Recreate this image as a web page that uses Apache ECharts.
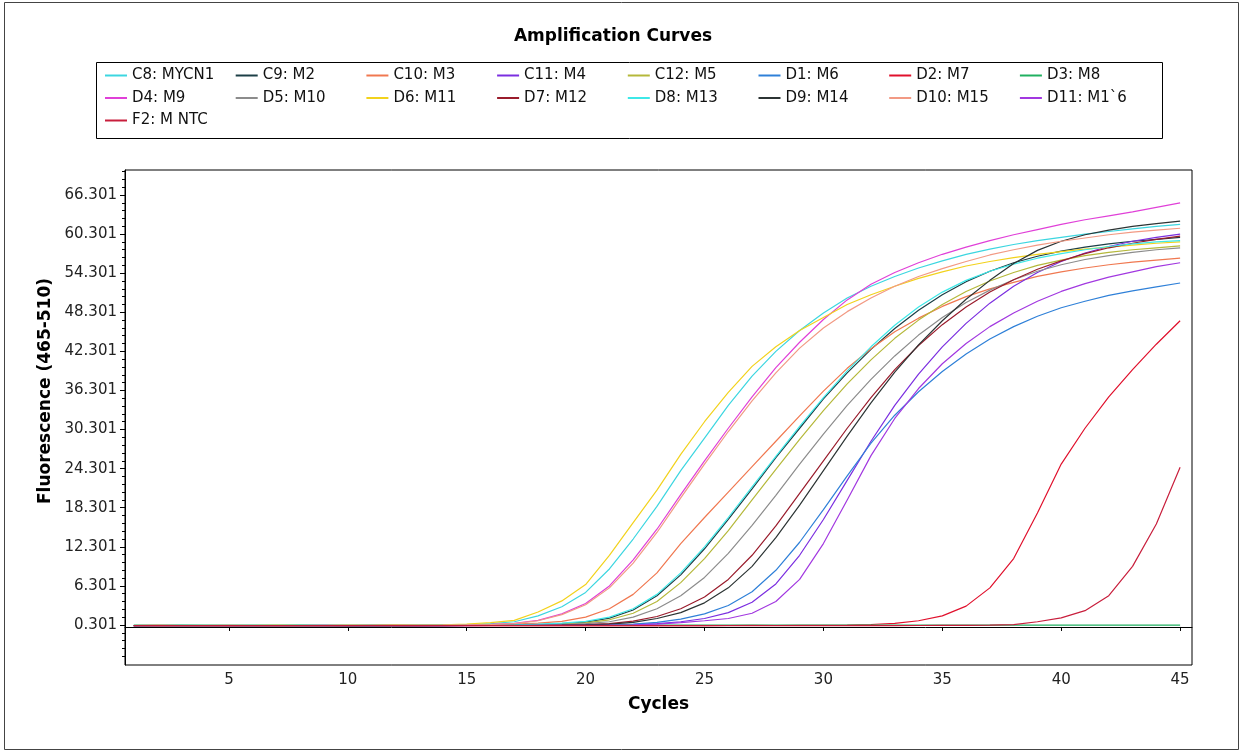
<!DOCTYPE html>
<html>
<head>
<meta charset="utf-8">
<script src="https://cdn.jsdelivr.net/npm/echarts@6/dist/echarts.min.js"></script>
<style>
  html, body { margin: 0; padding: 0; background: #fff; }
  #chart { width: 1243px; height: 753px; }
</style>
</head>
<body>
<div id="chart"></div>
<script>
//------------------------------------------ data ------------------------------------------
var cycles = [1,2,3,4,5,6,7,8,9,10,11,12,13,14,15,16,17,18,19,20,21,22,23,24,25,26,27,28,29,30,31,32,33,34,35,36,37,38,39,40,41,42,43,44,45];

var xTickLabels = [5, 10, 15, 20, 25, 30, 35, 40, 45];
var yTickLabels = ['0.301','6.301','12.301','18.301','24.301','30.301','36.301','42.301','48.301','54.301','60.301','66.301'];

var seriesNames = ['C8: MYCN1','C9: M2','C10: M3','C11: M4','C12: M5','D1: M6','D2: M7','D3: M8',
                   'D4: M9','D5: M10','D6: M11','D7: M12','D8: M13','D9: M14','D10: M15','D11: M1`6','F2: M NTC'];

var c8 = [0.22,0.20,0.23,0.21,0.20,0.22,0.21,0.23,0.22,0.21,0.24,0.26,0.28,0.31,0.38,0.52,0.8,1.7,3.1,5.3,8.9,13.5,18.5,24.0,29.0,34.0,38.5,42.3,45.5,48.2,50.5,52.3,53.8,55.1,56.2,57.2,58.0,58.7,59.3,59.8,60.3,60.7,61.1,61.5,61.8];
var c9 = [0.21,0.20,0.22,0.21,0.21,0.20,0.22,0.21,0.20,0.21,0.22,0.21,0.22,0.23,0.25,0.27,0.31,0.38,0.52,0.75,1.35,2.6,4.8,8.0,12.0,16.5,21.2,26.0,30.5,35.0,39.0,42.6,45.8,48.6,51.0,53.0,54.6,55.9,56.9,57.7,58.3,58.8,59.2,59.5,59.8];
var c10 = [0.21,0.22,0.20,0.21,0.22,0.20,0.21,0.22,0.21,0.20,0.22,0.23,0.24,0.26,0.28,0.32,0.42,0.58,0.85,1.5,2.8,5.0,8.3,12.8,16.8,20.7,24.6,28.5,32.4,36.2,39.7,42.7,45.3,47.4,49.2,50.7,51.9,52.9,53.8,54.5,55.1,55.6,56.0,56.3,56.6];
var c11 = [0.21,0.22,0.20,0.21,0.22,0.21,0.20,0.21,0.22,0.21,0.20,0.22,0.21,0.21,0.22,0.22,0.23,0.24,0.25,0.27,0.30,0.35,0.5,0.8,1.3,2.2,3.8,6.6,11.0,16.5,22.5,28.5,34.0,38.8,43.0,46.6,49.7,52.3,54.4,56.1,57.4,58.4,59.2,59.8,60.3];
var c12 = [0.22,0.21,0.20,0.22,0.21,0.22,0.20,0.21,0.22,0.20,0.21,0.22,0.22,0.23,0.24,0.26,0.29,0.35,0.45,0.62,1.1,2.1,3.9,6.8,10.5,14.8,19.5,24.2,28.8,33.2,37.3,41.0,44.3,47.1,49.5,51.5,53.1,54.4,55.5,56.3,57.0,57.5,57.9,58.2,58.5];
var d1 = [0.20,0.21,0.22,0.21,0.20,0.21,0.22,0.21,0.20,0.21,0.22,0.21,0.20,0.21,0.22,0.22,0.23,0.24,0.26,0.29,0.33,0.42,0.7,1.2,2.0,3.3,5.4,8.7,13.0,18.0,23.2,28.2,32.5,36.1,39.2,41.9,44.2,46.1,47.7,49.0,50.0,50.9,51.6,52.2,52.8];
var d2 = [0.22,0.21,0.20,0.21,0.22,0.21,0.20,0.22,0.21,0.20,0.21,0.22,0.21,0.20,0.21,0.22,0.21,0.20,0.21,0.22,0.21,0.20,0.21,0.22,0.21,0.22,0.23,0.22,0.24,0.25,0.28,0.38,0.55,0.95,1.7,3.2,6.0,10.5,17.5,25.0,30.5,35.3,39.5,43.4,47.0];
var d3 = [0.28,0.27,0.28,0.29,0.28,0.28,0.27,0.28,0.29,0.28,0.28,0.27,0.28,0.29,0.28,0.28,0.27,0.28,0.29,0.28,0.28,0.27,0.28,0.29,0.28,0.28,0.27,0.28,0.29,0.28,0.28,0.27,0.28,0.29,0.28,0.28,0.27,0.28,0.29,0.28,0.28,0.27,0.28,0.29,0.28];
var d4 = [0.21,0.23,0.20,0.22,0.21,0.20,0.22,0.21,0.23,0.22,0.23,0.24,0.26,0.28,0.32,0.40,0.55,1.0,2.0,3.6,6.3,10.3,15.0,20.3,25.5,30.5,35.3,39.8,43.7,47.2,50.2,52.6,54.4,55.9,57.2,58.3,59.3,60.2,61.0,61.8,62.5,63.1,63.7,64.4,65.1];
var d5 = [0.21,0.22,0.21,0.20,0.21,0.22,0.21,0.20,0.22,0.21,0.20,0.21,0.22,0.22,0.23,0.25,0.27,0.30,0.38,0.5,0.8,1.5,2.8,4.8,7.6,11.3,15.6,20.2,25.0,29.6,34.0,38.0,41.6,44.8,47.5,49.8,51.7,53.3,54.6,55.6,56.4,57.0,57.5,57.9,58.2];
var d6 = [0.20,0.24,0.21,0.22,0.20,0.21,0.23,0.20,0.22,0.24,0.25,0.27,0.30,0.34,0.45,0.65,1.0,2.3,4.0,6.5,11.0,16.0,21.0,26.5,31.5,36.0,40.0,43.0,45.5,47.5,49.5,51.0,52.3,53.5,54.5,55.4,56.1,56.7,57.2,57.6,58.0,58.3,58.6,58.9,59.1];
var d7 = [0.20,0.21,0.22,0.21,0.20,0.21,0.22,0.20,0.21,0.22,0.21,0.20,0.21,0.22,0.22,0.23,0.24,0.26,0.30,0.38,0.5,0.9,1.6,2.8,4.6,7.3,11.0,15.5,20.5,25.5,30.5,35.2,39.5,43.2,46.4,49.1,51.4,53.3,54.9,56.2,57.3,58.2,58.9,59.5,60.0];
var d8 = [0.20,0.22,0.21,0.20,0.22,0.21,0.20,0.22,0.21,0.22,0.20,0.21,0.23,0.24,0.26,0.29,0.33,0.42,0.58,0.85,1.5,2.8,5.0,8.3,12.3,16.8,21.5,26.2,30.8,35.2,39.3,43.0,46.3,49.1,51.4,53.2,54.6,55.7,56.6,57.3,57.9,58.4,58.8,59.1,59.3];
var d9 = [0.21,0.20,0.21,0.22,0.21,0.20,0.21,0.22,0.21,0.20,0.21,0.22,0.21,0.21,0.22,0.23,0.24,0.25,0.28,0.33,0.42,0.7,1.3,2.2,3.7,6.0,9.3,13.7,18.7,24.0,29.3,34.4,39.1,43.3,47.0,50.3,53.2,55.8,57.8,59.2,60.2,60.9,61.5,61.9,62.3];
var d10 = [0.22,0.21,0.22,0.20,0.23,0.21,0.22,0.20,0.21,0.23,0.22,0.24,0.25,0.27,0.31,0.38,0.52,0.95,1.9,3.4,6.0,9.8,14.5,19.8,25.0,30.0,34.7,39.0,42.8,45.9,48.4,50.5,52.3,53.8,55.0,56.1,57.1,57.9,58.6,59.2,59.7,60.2,60.6,60.9,61.2];
var d11 = [0.20,0.21,0.22,0.21,0.21,0.20,0.21,0.22,0.20,0.21,0.22,0.21,0.20,0.21,0.21,0.22,0.22,0.23,0.24,0.26,0.28,0.32,0.42,0.65,0.95,1.3,2.1,3.9,7.3,12.8,19.5,26.3,32.0,36.6,40.4,43.5,46.1,48.2,50.0,51.5,52.7,53.7,54.5,55.3,55.9];
var f2 = [0.21,0.22,0.21,0.20,0.21,0.22,0.21,0.20,0.21,0.22,0.21,0.20,0.21,0.22,0.21,0.20,0.21,0.22,0.21,0.20,0.21,0.22,0.21,0.20,0.21,0.22,0.21,0.20,0.21,0.22,0.21,0.20,0.21,0.22,0.23,0.24,0.27,0.35,0.8,1.4,2.5,4.8,9.3,15.8,24.5];

var seriesValues = [c8, c9, c10, c11, c12, d1, d2, d3, d4, d5, d6, d7, d8, d9, d10, d11, f2];

//------------------------------------------ styles ----------------------------------------
var seriesColors = ['#3cd6e0','#1c3f46','#f07850','#7b2ee0','#b5b83a','#2f80d8','#e0102c','#20b060',
                    '#e040d8','#8c8c8c','#f2d21c','#9a1c2c','#3ee8e8','#2c3434','#f29a84','#a238e0','#c81e3c'];

var FONT = 'DejaVu Sans';

// axis ranges fitted to the plot frame of the picture
var xMin = 0.63, xMax = 45.5;
var yMin = -5.84, yMax = 70.14;

var yMajor = yTickLabels.map(function (t) { return parseFloat(t); });
var yMinor = [];
for (var k = -4; k <= 58; k++) {
  var v = 0.301 + k * 1.2;
  if (v > yMin && v < yMax) yMinor.push(+v.toFixed(3));
}

//------------------------------------------ legends ---------------------------------------
// one small legend per entry so the 8 columns line up like the picture
var legendRows = [76, 98.5, 121];
var legends = seriesNames.map(function (name, i) {
  var col = i % 8, row = Math.floor(i / 8);
  return {
    data: [{ name: name, icon: 'rect' }],
    left: 132 + col * 130.7 - 27,
    top: legendRows[row] - 8,
    padding: 0,
    itemWidth: 22,
    itemHeight: 2,
    selectedMode: false,
    textStyle: { fontFamily: FONT, fontSize: 15, color: '#111' }
  };
});

//------------------------------------------ series ----------------------------------------
var series = seriesNames.map(function (name, i) {
  return {
    name: name,
    type: 'line',
    symbol: 'none',
    showSymbol: false,
    smooth: false,
    color: seriesColors[i],
    lineStyle: { width: 1.2, color: seriesColors[i] },
    data: cycles.map(function (c, j) { return [c, seriesValues[i][j]]; })
  };
});

//------------------------------------------ chart -----------------------------------------
var myChart = echarts.init(document.getElementById('chart'));
myChart.setOption({
  animation: false,
  backgroundColor: '#fff',
  textStyle: { fontFamily: FONT },
  legend: legends,
  grid: {
    left: 125, right: 51, top: 170, bottom: 88,
    show: true, borderColor: '#000', borderWidth: 1,
    containLabel: false, outerBoundsMode: 'none'
  },
  xAxis: {
    type: 'value',
    min: xMin, max: xMax,
    name: 'Cycles',
    nameLocation: 'middle',
    nameGap: 31,
    nameTextStyle: { fontFamily: FONT, fontWeight: 'bold', fontSize: 17, color: '#000' },
    axisLine: { show: true, lineStyle: { color: '#000', width: 1 } },
    axisTick: { show: true, length: 4, customValues: xTickLabels, lineStyle: { color: '#000' } },
    axisLabel: { customValues: xTickLabels, margin: 8, fontFamily: FONT, fontSize: 15, color: '#222' },
    splitLine: { show: false }
  },
  yAxis: [{
    type: 'value',
    min: yMin, max: yMax,
    axisLine: { show: true, lineStyle: { color: '#000', width: 1 } },
    axisTick: { show: true, length: 5, customValues: yMajor, lineStyle: { color: '#000' } },
    axisLabel: {
      customValues: yMajor, margin: 8, fontFamily: FONT, fontSize: 15, color: '#222',
      formatter: function (v) { return v.toFixed(3); }
    },
    splitLine: { show: false }
  }, {
    type: 'value',
    position: 'left',
    min: yMin, max: yMax,
    axisLine: { show: false },
    axisTick: { show: true, length: 3, customValues: yMinor, lineStyle: { color: '#000' } },
    axisLabel: { show: false },
    splitLine: { show: false }
  }],
  graphic: [
    { type: 'rect', shape: { x: 4.5, y: 2.5, width: 1234, height: 747 }, style: { fill: 'none', stroke: '#444', lineWidth: 1 }, silent: true },
    { type: 'rect', shape: { x: 96.5, y: 62.5, width: 1066, height: 76 }, style: { fill: 'none', stroke: '#000', lineWidth: 1 }, silent: true },
    { type: 'text', x: 613, y: 37, style: { text: 'Amplification Curves', font: 'bold 17px "DejaVu Sans"', fill: '#000', align: 'center', verticalAlign: 'middle' }, silent: true },
    { type: 'text', x: 46, y: 391, rotation: Math.PI / 2, style: { text: 'Fluorescence (465-510)', font: 'bold 17px "DejaVu Sans"', fill: '#000', align: 'center', verticalAlign: 'middle' }, silent: true }
  ],
  series: series
});
</script>
</body>
</html>
